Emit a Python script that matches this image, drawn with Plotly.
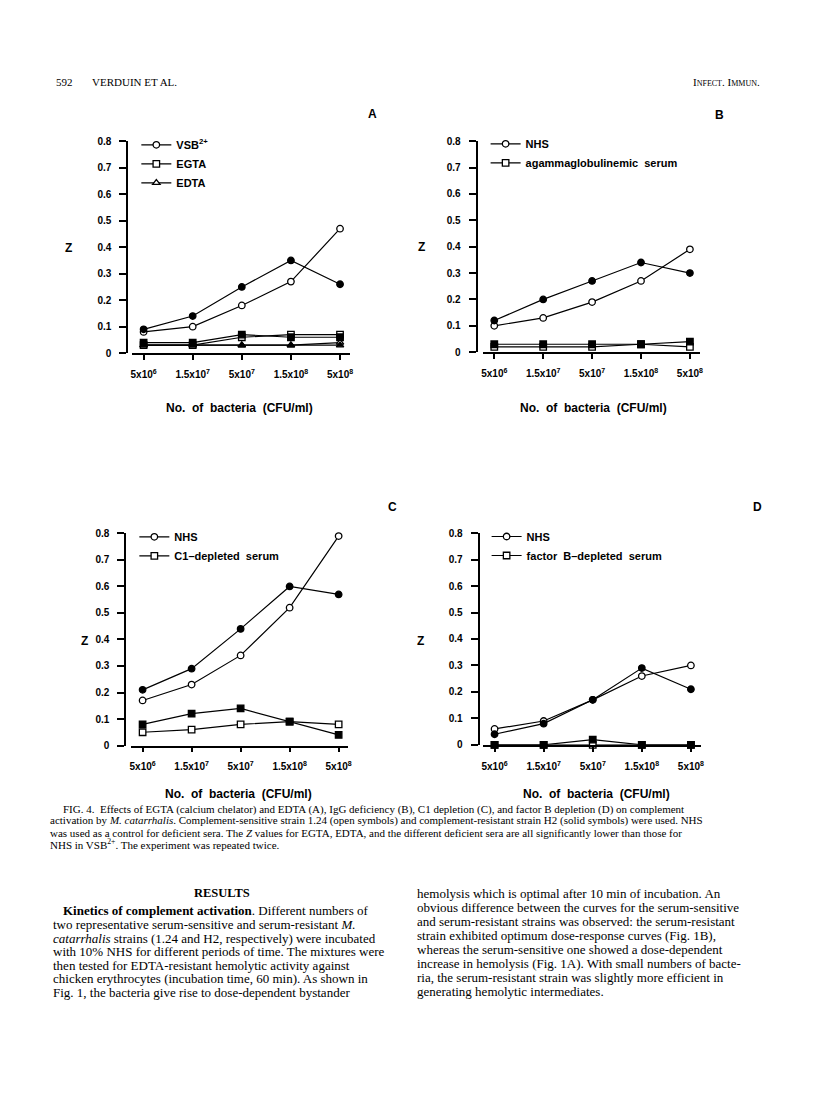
import plotly.graph_objects as go

W, H = 816, 1096

# ---------------- data ----------------
x_labels = ["5x10<sup>6</sup>", "1.5x10<sup>7</sup>", "5x10<sup>7</sup>", "1.5x10<sup>8</sup>", "5x10<sup>8</sup>"]
x_pos = [0, 1, 2, 3, 4]
y_ticks = [0, 0.1, 0.2, 0.3, 0.4, 0.5, 0.6, 0.7, 0.8]
y_ticktext = ["0", "0.1", "0.2", "0.3", "0.4", "0.5", "0.6", "0.7", "0.8"]

# Panel A
a_vsb_open = [0.08, 0.10, 0.18, 0.27, 0.47]
a_vsb_solid = [0.09, 0.14, 0.25, 0.35, 0.26]
a_egta_open = [0.03, 0.03, 0.06, 0.07, 0.07]
a_egta_solid = [0.04, 0.04, 0.07, 0.06, 0.06]
a_edta_open = [0.03, 0.03, 0.03, 0.03, 0.04]
a_edta_solid = [0.03, 0.03, 0.03, 0.03, 0.03]
# Panel B
b_nhs_open = [0.10, 0.13, 0.19, 0.27, 0.39]
b_nhs_solid = [0.12, 0.20, 0.27, 0.34, 0.30]
b_agam_open = [0.02, 0.02, 0.02, 0.03, 0.02]
b_agam_solid = [0.03, 0.03, 0.03, 0.03, 0.04]
# Panel C
c_nhs_open = [0.17, 0.23, 0.34, 0.52, 0.79]
c_nhs_solid = [0.21, 0.29, 0.44, 0.60, 0.57]
c_c1_open = [0.05, 0.06, 0.08, 0.09, 0.08]
c_c1_solid = [0.08, 0.12, 0.14, 0.09, 0.04]
# Panel D
d_nhs_open = [0.06, 0.09, 0.17, 0.26, 0.30]
d_nhs_solid = [0.04, 0.08, 0.17, 0.29, 0.21]
d_fb_open = [0.0, 0.0, 0.0, 0.0, 0.0]
d_fb_solid = [0.0, 0.0, 0.02, 0.0, 0.0]

panel_letters = ["A", "B", "C", "D"]
legend_names = {
    "A": ["VSB<sup>2+</sup>", "EGTA", "EDTA"],
    "B": ["NHS", "agammaglobulinemic  serum"],
    "C": ["NHS", "C1\u2013depleted  serum"],
    "D": ["NHS", "factor  B\u2013depleted  serum"],
}
x_title = "No.  of  bacteria  (CFU/ml)"
y_title = "Z"

header_left = "592"
header_author = "VERDUIN ET AL."
header_right = "I<span style='font-size:8px'>NFECT</span>. I<span style='font-size:8px'>MMUN</span>."

caption_lines = [
    "FIG. 4.  Effects of EGTA (calcium chelator) and EDTA (A), IgG deficiency (B), C1 depletion (C), and factor B depletion (D) on complement",
    "activation by <i>M. catarrhalis</i>. Complement-sensitive strain 1.24 (open symbols) and complement-resistant strain H2 (solid symbols) were used. NHS",
    "was used as a control for deficient sera. The <i>Z</i> values for EGTA, EDTA, and the different deficient sera are all significantly lower than those for",
    "NHS in VSB<sup>2+</sup>. The experiment was repeated twice.",
]
results_heading = "<b>RESULTS</b>"
left_col = [
    "<b>Kinetics of complement activation</b>. Different numbers of",
    "two representative serum-sensitive and serum-resistant <i>M.</i>",
    "<i>catarrhalis</i> strains (1.24 and H2, respectively) were incubated",
    "with 10% NHS for different periods of time. The mixtures were",
    "then tested for EDTA-resistant hemolytic activity against",
    "chicken erythrocytes (incubation time, 60 min). As shown in",
    "Fig. 1, the bacteria give rise to dose-dependent bystander",
]
right_col = [
    "hemolysis which is optimal after 10 min of incubation. An",
    "obvious difference between the curves for the serum-sensitive",
    "and serum-resistant strains was observed: the serum-resistant",
    "strain exhibited optimum dose-response curves (Fig. 1B),",
    "whereas the serum-sensitive one showed a dose-dependent",
    "increase in hemolysis (Fig. 1A). With small numbers of bacte-",
    "ria, the serum-resistant strain was slightly more efficient in",
    "generating hemolytic intermediates.",
]

# ---------------- layout geometry (pixels) ----------------
# first tick x, last tick x, y of value 0, y of value 0.8, y-axis x
geom = {
    "A": (143.3, 340.7, 351.0, 136.7, 127.0),
    "B": (495.7, 692.3, 350.0, 136.7, 478.0),
    "C": (142.3, 339.3, 747.7, 533.3, 125.0),
    "D": (496.0, 693.3, 747.0, 533.0, 480.0),
}
XR = [-0.24, 4.2]


def px(x):
    return x / W


def py(y):
    return 1 - y / H


SANS = "Liberation Sans"
SERIF = "Liberation Serif"

fig = go.Figure()

panels = {
    "A": [(a_vsb_open, "circle-open"), (a_vsb_solid, "circle"),
          (a_egta_open, "square-open"), (a_egta_solid, "square"),
          (a_edta_open, "triangle-up-open"), (a_edta_solid, "triangle-up")],
    "B": [(b_nhs_open, "circle-open"), (b_nhs_solid, "circle"),
          (b_agam_open, "square-open"), (b_agam_solid, "square")],
    "C": [(c_nhs_open, "circle-open"), (c_nhs_solid, "circle"),
          (c_c1_open, "square-open"), (c_c1_solid, "square")],
    "D": [(d_nhs_open, "circle-open"), (d_nhs_solid, "circle"),
          (d_fb_open, "square-open"), (d_fb_solid, "square")],
}


def make_trace(vals, symbol, name, idx, legend_id, show):
    filled = not symbol.endswith("-open")
    base = symbol.replace("-open", "")
    return go.Scatter(
        x=x_pos, y=vals, mode="lines+markers", name=name,
        line=dict(color="black", width=1.2),
        marker=dict(symbol=base, size=6.5, color="black" if filled else "white",
                    line=dict(color="black", width=1.3)),
        xaxis="x" if idx == 1 else f"x{idx}", yaxis="y" if idx == 1 else f"y{idx}",
        legend=legend_id, showlegend=show, cliponaxis=False,
    )


legend_pos = {  # left x of legend line, center y of first row, in px
    "A": (142, 141.7),
    "B": (493, 140.7),
    "C": (140, 538),
    "D": (494, 537.7),
}

layout = dict(
    width=W, height=H, margin=dict(l=0, r=0, t=0, b=0),
    paper_bgcolor="white", plot_bgcolor="white",
    showlegend=True,
)


def note(text, x, y, size, family, xanchor="left", align="left"):
    return dict(text=text, x=px(x), y=py(y), xref="paper", yref="paper", showarrow=False,
                xanchor=xanchor, yanchor="middle", align=align, borderpad=0,
                font=dict(family=family, size=size, color="black"))


annotations = []
for i, letter in enumerate(panel_letters, start=1):
    t0, t4, y0, y8, yax = geom[letter]
    s = (t4 - t0) / 4
    dom_x = [px(t0 + XR[0] * s), px(t4 + (XR[1] - 4) * s)]
    dom_y = [py(y0), py(y8)]
    legend_id = "legend" if i == 1 else f"legend{i}"
    names = legend_names[letter]
    for k, (vals, sym) in enumerate(panels[letter]):
        show = sym.endswith("-open")
        fig.add_trace(make_trace(vals, sym, names[k // 2], i, legend_id, show))
    xk = "xaxis" if i == 1 else f"xaxis{i}"
    yk = "yaxis" if i == 1 else f"yaxis{i}"
    layout[xk] = dict(
        domain=dom_x, range=XR, anchor="y" if i == 1 else f"y{i}",
        tickmode="array", tickvals=x_pos, ticktext=x_labels,
        showline=True, linecolor="black", linewidth=1.8,
        ticks="outside", ticklen=5, tickwidth=1.5, tickcolor="black",
        showgrid=False, zeroline=False, ticklabelstandoff=6,
        tickfont=dict(family=SANS, size=10, color="black", weight="bold"),
    )
    layout[yk] = dict(
        domain=dom_y, range=[0, 0.8], anchor="free", position=px(yax),
        tickmode="array", tickvals=y_ticks, ticktext=y_ticktext,
        showline=True, linecolor="black", linewidth=2,
        ticks="outside", ticklen=7, tickwidth=1.5, tickcolor="black",
        showgrid=False, zeroline=False, ticklabelstandoff=6,
        tickfont=dict(family=SANS, size=10, color="black", weight="bold"),
    )
    lx, ly = legend_pos[letter]
    layout[legend_id] = dict(
        x=px(lx - 6), y=py(ly - 16), xanchor="left", yanchor="top",
        bgcolor="rgba(0,0,0,0)", borderwidth=0, tracegroupgap=0,
        itemwidth=30,
        font=dict(family=SANS, size=11, color="black", weight="bold"),
    )
    lp = {"A": (373, 109), "B": (722, 110), "C": (393, 507), "D": (760, 507)}[letter]
    annotations.append(note(f"<b>{letter}</b>", lp[0], lp[1], 12, SANS, "center", "center"))
    zp = {"A": (68, 245), "B": (423, 244), "C": (84, 642), "D": (422, 642)}[letter]
    annotations.append(note(f"<b>{y_title}</b>", zp[0], zp[1], 12, SANS, "center", "center"))
    tp = {"A": (240, 406), "B": (595, 406), "C": (239, 797), "D": (598, 797)}[letter]
    annotations.append(note(f"<b>{x_title}</b>", tp[0], tp[1], 12, SANS, "center", "center"))

# header
annotations.append(note(header_left, 54, 77, 11, SERIF))
annotations.append(note(header_author, 90, 77, 11, SERIF))
annotations.append(note(header_right, 764, 77, 11, SERIF, "right", "right"))

# caption
cap_y = [812.0, 823.9, 835.8, 847.7]
for j, line in enumerate(caption_lines):
    annotations.append(note(line, 61 if j == 0 else 48, cap_y[j], 11.0, SERIF))

# body text
annotations.append(note(results_heading, 222, 897, 12.5, SERIF, "center", "center"))
for j, line in enumerate(left_col):
    annotations.append(note(line, 61 if j == 0 else 51, 915 + j * 13.7, 13.0, SERIF))
for j, line in enumerate(right_col):
    annotations.append(note(line, 417, 897 + j * 14.2, 13.0, SERIF))

layout["annotations"] = annotations
fig.update_layout(**layout)
fig.write_html("out.html", config={"displayModeBar": False},
               post_script="document.body.style.margin='0px';")
